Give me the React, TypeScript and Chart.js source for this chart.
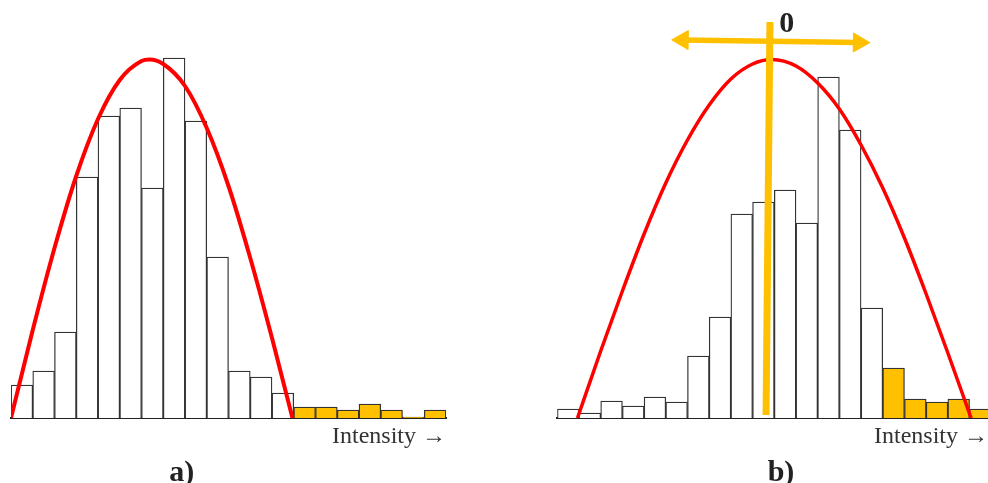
import React, { useEffect, useRef } from "react";
import { Chart, registerables } from "chart.js";

Chart.register(...registerables);

// ---------- data ----------
// bin centres (in bin units) for both histograms
const binsA = [0.5, 1.5, 2.5, 3.5, 4.5, 5.5, 6.5, 7.5, 8.5, 9.5, 10.5, 11.5, 12.5, 13.5, 14.5, 15.5, 16.5, 17.5, 18.5, 19.5];
const countsA = [33, 47, 86, 241, 302, 310, 230, 360, 297, 161, 47, 41, 25, 11, 11, 8, 14, 8, 1, 8];
const firstOutlierA = 13;

const binsB = [0.5, 1.5, 2.5, 3.5, 4.5, 5.5, 6.5, 7.5, 8.5, 9.5, 10.5, 11.5, 12.5, 13.5, 14.5, 15.5, 16.5, 17.5, 18.5, 19.5];
const countsB = [9, 5, 17, 12, 21, 16, 62, 101, 204, 216, 228, 195, 341, 288, 110, 50, 19, 16, 19, 9];
const firstOutlierB = 15;

// fitted curves
const curveAx = [0, 1, 2, 3, 4, 5, 6, 6.37, 7, 8, 9, 10, 11, 12, 12.94];
const curveAy = [0, 88, 170, 242, 299, 338, 357, 358.5, 354, 332, 290, 232, 160, 80, 0];

const curveBx = [0.93, 2, 3, 4, 5, 6, 7, 8, 9, 9.89, 11, 12, 13, 14, 15, 16, 17, 18, 19.07];
const curveBy = [0, 67, 127, 184, 235, 278, 313, 339, 354, 358.5, 352, 335, 309, 273, 230, 180, 124, 65, 0];

// yellow "zero" marker in panel b
const markerVx = [9.62, 9.8];
const markerVy = [3, 396];
const markerHx = [5.78, 13.9];
const markerHy = [378, 375.5];

const axisTitle = "Intensity →";
const labelA = "a)";
const labelB = "b)";
const zeroLabel = "0";

// ---------- style ----------
const YELLOW = "#FFC000";
const RED = "#FF0000";
const OUTLINE = "#333333";
const SERIF = "'Liberation Serif', 'Times New Roman', serif";

const textPlugin = {
  id: "panelTexts",
  afterDraw(chart: any, _args: any, opts: any) {
    const { ctx } = chart;
    const xs = chart.scales.x;
    const ys = chart.scales.y;
    for (const t of opts.items || []) {
      ctx.save();
      ctx.font = t.font;
      ctx.fillStyle = t.color;
      ctx.textAlign = "center";
      ctx.textBaseline = "alphabetic";
      ctx.fillText(t.text, xs.getPixelForValue(t.x), ys.getPixelForValue(t.y));
      ctx.restore();
    }
  },
};

function xAxis(max: number) {
  return {
    type: "linear" as const,
    min: 0,
    max,
    offset: false,
    grid: { display: false, drawTicks: false, offset: false },
    border: { display: true, color: "#222", width: 2 },
    ticks: { display: false },
    title: {
      display: true,
      text: axisTitle,
      align: "end" as const,
      color: "#333",
      font: { family: SERIF, size: 24 },
      padding: { top: 4, bottom: 6 },
    },
  };
}

function histogram(bins: number[], counts: number[], firstOutlier: number) {
  return {
    type: "bar" as const,
    data: bins.map((b, i) => ({ x: b, y: counts[i] })),
    backgroundColor: counts.map((_, i) => (i >= firstOutlier ? YELLOW : "#ffffff")),
    borderColor: OUTLINE,
    borderWidth: 1.3,
    borderSkipped: "start" as const,
    barPercentage: 1,
    categoryPercentage: 1,
    order: 3,
  };
}

function curve(xs: number[], ys: number[], width: number) {
  return {
    type: "line" as const,
    data: xs.map((x, i) => ({ x, y: ys[i] })),
    borderColor: RED,
    borderWidth: width,
    pointRadius: 0,
    cubicInterpolationMode: "monotone" as const,
    order: 2,
  };
}

function PanelA() {
  const ref = useRef<HTMLCanvasElement>(null);
  useEffect(() => {
    const chart = new Chart(ref.current!, {
      type: "bar",
      data: {
        datasets: [histogram(binsA, countsA, firstOutlierA), curve(curveAx, curveAy, 4)] as any,
      },
      options: {
        animation: false,
        responsive: false,
        maintainAspectRatio: false,
        layout: { autoPadding: false, padding: { left: 11, right: 24, top: 18, bottom: 26.2 } },
        plugins: {
          legend: { display: false },
          tooltip: { enabled: false },
          panelTexts: {
            items: [{ text: labelA, x: 7.85, y: -63, font: `bold 30px ${SERIF}`, color: "#222" }],
          },
        } as any,
        scales: {
          x: xAxis(20),
          y: { display: false, min: 0, max: 400 },
        },
      },
      plugins: [textPlugin],
    });
    return () => chart.destroy();
  }, []);
  return (
    <canvas
      ref={ref}
      width={470}
      height={483}
      style={{ position: "absolute", left: 0, top: 0, width: 470, height: 483 }}
    />
  );
}

function PanelB() {
  const ref = useRef<HTMLCanvasElement>(null);
  useEffect(() => {
    const chart = new Chart(ref.current!, {
      type: "bar",
      data: {
        datasets: [
          histogram(binsB, countsB, firstOutlierB),
          curve(curveBx, curveBy, 3.5),
          {
            type: "line",
            data: markerVx.map((x, i) => ({ x, y: markerVy[i] })),
            borderColor: YELLOW,
            borderWidth: 7,
            borderCapStyle: "butt",
            pointRadius: 0,
            clip: false,
            order: 0,
          },
          {
            type: "line",
            data: markerHx.map((x, i) => ({ x, y: markerHy[i] })),
            borderColor: YELLOW,
            borderWidth: 5.5,
            pointRadius: 11,
            pointStyle: "triangle",
            pointRotation: [270.8, 90.8],
            pointBackgroundColor: YELLOW,
            pointBorderColor: YELLOW,
            pointBorderWidth: 1,
            clip: false,
            order: 1,
          },
        ] as any,
      },
      options: {
        animation: false,
        responsive: false,
        maintainAspectRatio: false,
        layout: { autoPadding: false, padding: { left: 17.3, right: 0, top: 18, bottom: 26.2 } },
        plugins: {
          legend: { display: false },
          tooltip: { enabled: false },
          panelTexts: {
            items: [
              { text: labelB, x: 10.31, y: -63, font: `bold 30px ${SERIF}`, color: "#222" },
              { text: zeroLabel, x: 10.57, y: 386, font: `bold 30px ${SERIF}`, color: "#222" },
            ],
          },
        } as any,
        scales: {
          x: xAxis(19.85),
          y: { display: false, min: 0, max: 400 },
        },
      },
      plugins: [textPlugin],
    });
    return () => chart.destroy();
  }, []);
  return (
    <canvas
      ref={ref}
      width={448}
      height={483}
      style={{ position: "absolute", left: 540, top: 0, width: 448, height: 483 }}
    />
  );
}

export default function App() {
  return (
    <div
      style={{
        position: "fixed",
        left: 0,
        top: 0,
        width: 988,
        height: 483,
        background: "#ffffff",
        overflow: "hidden",
      }}
    >
      <PanelA />
      <PanelB />
    </div>
  );
}
